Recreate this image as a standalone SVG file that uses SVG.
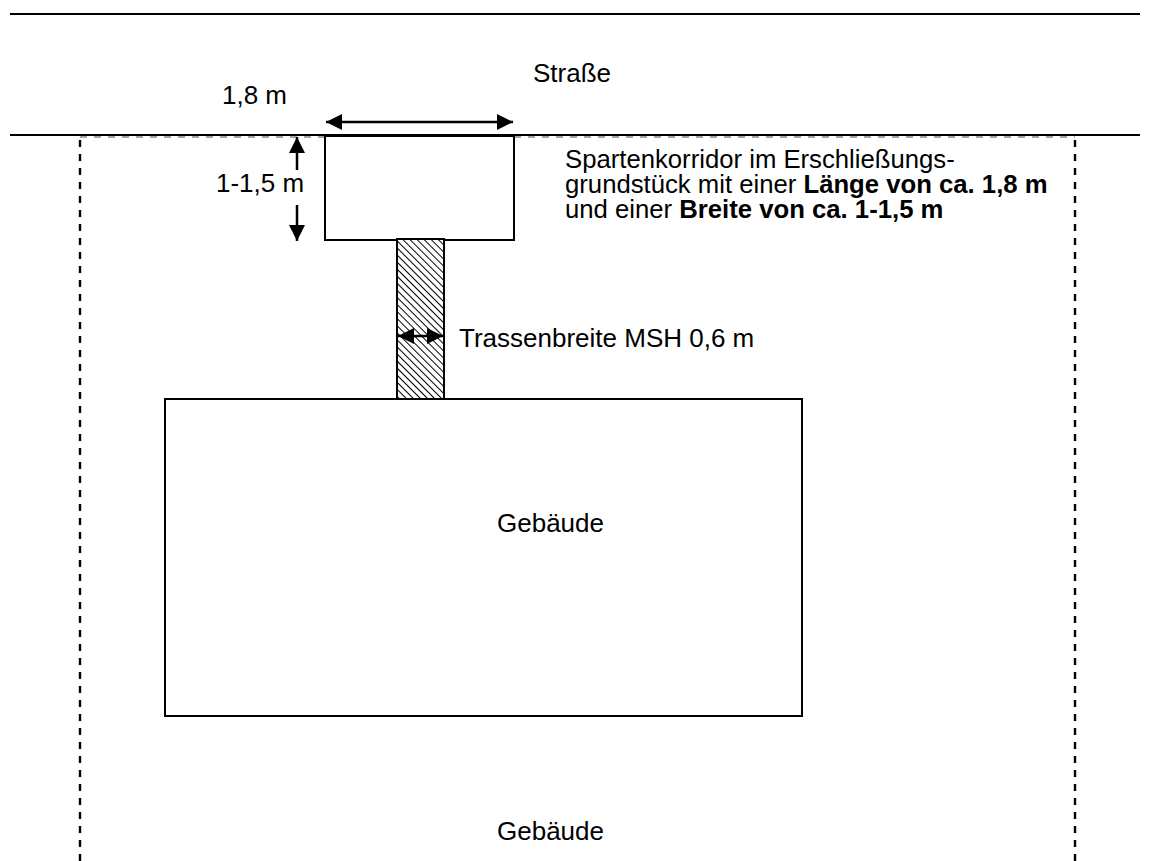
<svg xmlns="http://www.w3.org/2000/svg" width="1150" height="861" viewBox="0 0 1150 861">
<style>
.t{font-family:"Liberation Sans",Arial,sans-serif;font-size:26px;fill:#000}
.k{font-size:25.7px}
.b{font-weight:bold}
.ln{stroke:#000;stroke-width:2;fill:none}
.dash{stroke:#000;stroke-width:2.4;stroke-dasharray:7 7;fill:none}
.box{stroke:#000;stroke-width:2;fill:#fff}
.arr{stroke:#000;stroke-width:2.5;fill:none}
</style>
<defs>
<pattern id="hatch" patternUnits="userSpaceOnUse" width="5" height="5" patternTransform="rotate(-45)">
<rect width="5" height="5" fill="#fff"/>
<line x1="0" y1="0" x2="0" y2="5" stroke="#000" stroke-width="2"/>
</pattern>
<marker id="ah" viewBox="0 0 10 10" refX="10" refY="5" markerWidth="6.5" markerHeight="6.5" orient="auto-start-reverse" markerUnits="strokeWidth">
<path d="M0,0 L10,5 L0,10 z" fill="#000"/>
</marker>
</defs>
<g id="street">
<line class="ln" x1="10" y1="14" x2="1140" y2="14"/>
<line class="ln" x1="10" y1="135" x2="1140" y2="135"/>
<text class="t" x="533" y="82">Straße</text>
</g>
<g id="plot">
<line x1="80" y1="137" x2="1075" y2="137" stroke="#888" stroke-width="1.5" stroke-dasharray="7 7"/>
<line class="dash" x1="80" y1="140" x2="80" y2="861"/>
<line class="dash" x1="1075" y1="140" x2="1075" y2="861"/>
<text class="t" x="497" y="840">Gebäude</text>
</g>
<g id="korridor">
<rect class="box" x="325" y="136" width="189" height="104"/>
<text class="t k"><tspan x="565" y="168">Spartenkorridor im Erschließungs-</tspan><tspan x="565" y="193">grundstück mit einer <tspan class="b">Länge von ca. 1,8 m</tspan></tspan><tspan x="565" y="218">und einer <tspan class="b">Breite von ca. 1-1,5 m</tspan></tspan></text>
</g>
<g id="trasse">
<rect x="397" y="239" width="47" height="160" fill="url(#hatch)" stroke="#000" stroke-width="2"/>
<text class="t" x="459" y="347">Trassenbreite MSH 0,6 m</text>
</g>
<g id="gebaeude">
<rect class="box" x="165" y="399" width="637" height="317"/>
<text class="t" x="497" y="532">Gebäude</text>
</g>
<g id="connectors">
<line class="arr" x1="326" y1="122" x2="513" y2="122" marker-start="url(#ah)" marker-end="url(#ah)"/>
<text class="t" x="222" y="104">1,8 m</text>
<line class="arr" x1="297" y1="170" x2="297" y2="137" marker-end="url(#ah)"/>
<line class="arr" x1="297" y1="205" x2="297" y2="241" marker-end="url(#ah)"/>
<text class="t" x="216" y="192">1-1,5 m</text>
<line class="arr" x1="398" y1="336" x2="443" y2="336" marker-start="url(#ah)" marker-end="url(#ah)"/>
</g>
</svg>
